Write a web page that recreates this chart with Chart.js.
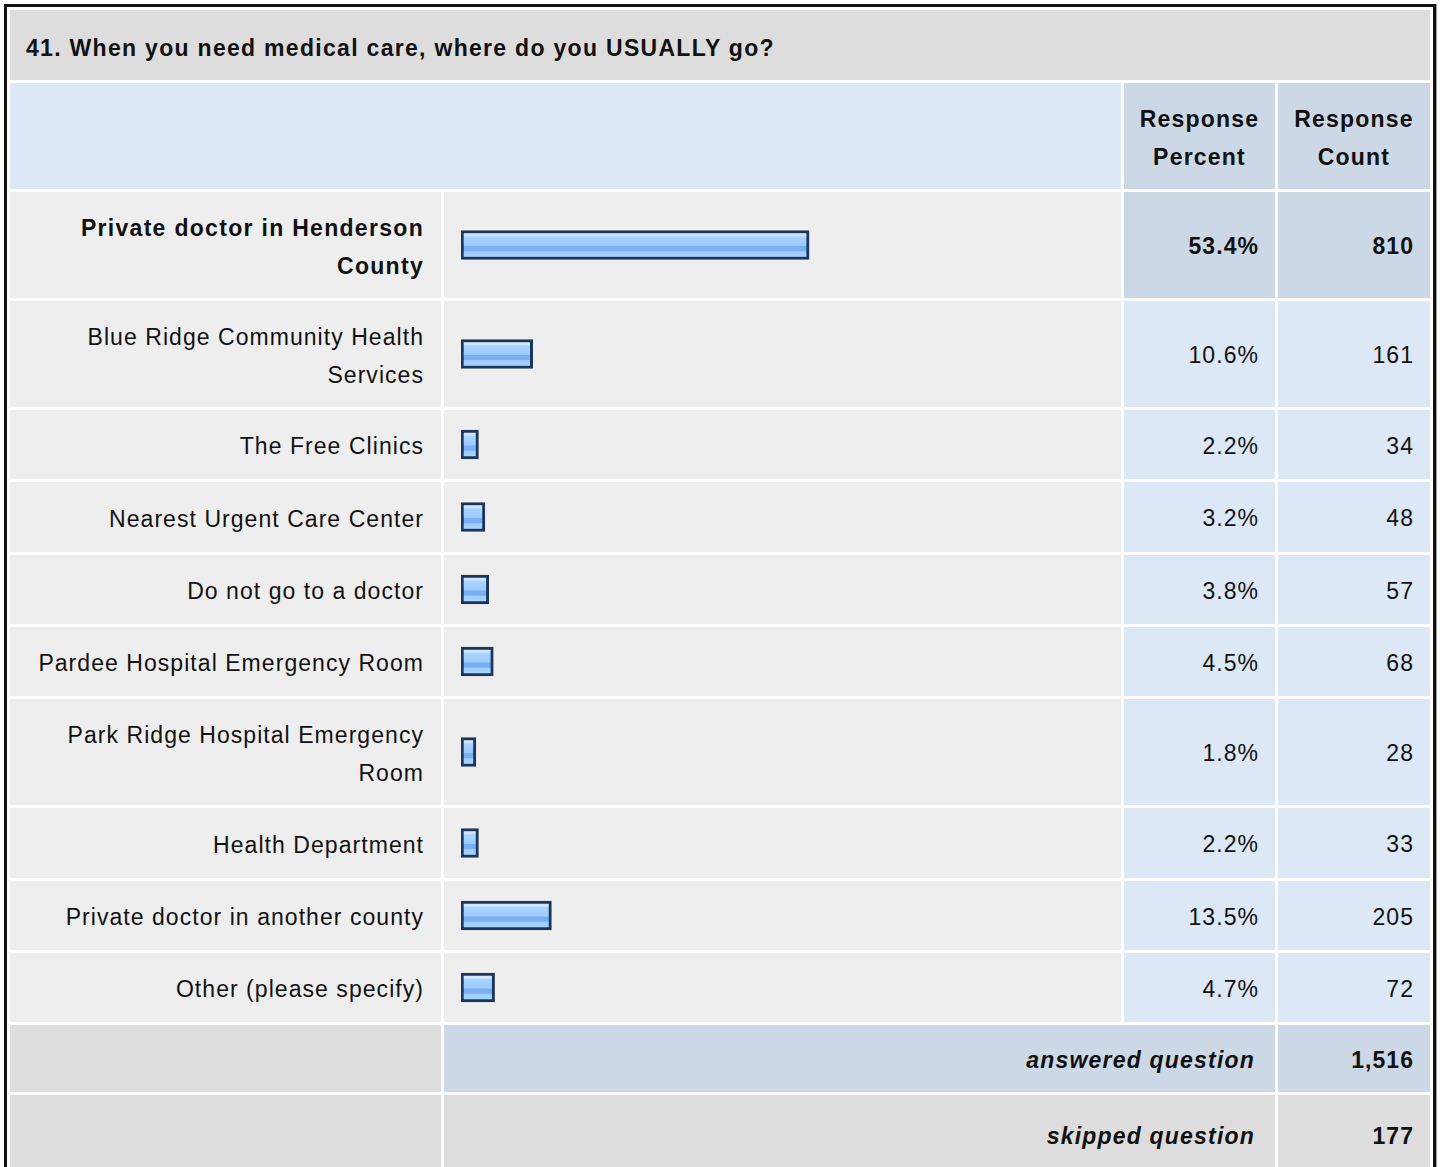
<!DOCTYPE html>
<html>
<head>
<meta charset="utf-8">
<script src="https://cdn.jsdelivr.net/npm/chart.js@4.4.1/dist/chart.umd.min.js"></script>
<style>
  html, body { margin: 0; padding: 0; background: #ffffff; }
  body { width: 1440px; height: 1167px; overflow: hidden; position: relative;
         font-family: "Liberation Sans", Arial, Helvetica, sans-serif; color: #111; }
  #box { position: absolute; left: 4px; top: 4px; border: 3px solid #111; padding: 3px;
         box-shadow: 1px 0 0 #999; }
  #grid { display: grid; grid-template-columns: 431px 677px 151px 152px; column-gap: 3px; row-gap: 3px; }
  .cell { display: flex; align-items: center; font-size: 23px; letter-spacing: 1.05px; box-sizing: border-box; padding-top: 3px; }
  .title { grid-column: 1 / 5; background: #dddddd; font-weight: bold; padding-left: 16px; letter-spacing: 1.3px; padding-top: 6px; }
  .hdrblank { grid-column: 1 / 3; background: #dce8f5; }
  .hdr { background: #ccd8e6; font-weight: bold; justify-content: center; text-align: center; line-height: 38px; letter-spacing: 1.2px; padding-top: 4px; }
  .lbl { background: #eeeeee; justify-content: flex-end; text-align: right; padding-right: 17px; padding-left: 16px; line-height: 38px; }
  .bar { background: #eeeeee; position: relative; padding: 0; }
  .bar canvas { position: absolute; left: 0; top: 0; }
  .pct { background: #dce8f5; justify-content: flex-end; padding-right: 16px; }
  .cnt { background: #dce8f5; justify-content: flex-end; padding-right: 16px; }
  .hl { background: #ccd8e6; font-weight: bold; }
  .b { font-weight: bold; letter-spacing: 1.3px; padding-top: 4px; }
  .footL { background: #dddddd; }
  .footM { grid-column: 2 / 4; justify-content: flex-end; padding-right: 20px; font-weight: bold; font-style: italic; letter-spacing: 1.2px; }
  .footC { justify-content: flex-end; padding-right: 16px; font-weight: bold; }
  .blue { background: #ccd8e6; }
  .gray { background: #dddddd; }
</style>
</head>
<body>
<div id="box"><div id="grid"></div></div>
<script>
// ---- data ----
const questionTitle = "41. When you need medical care, where do you USUALLY go?";
const categories = [
  "Private doctor in Henderson County",
  "Blue Ridge Community Health Services",
  "The Free Clinics",
  "Nearest Urgent Care Center",
  "Do not go to a doctor",
  "Pardee Hospital Emergency Room",
  "Park Ridge Hospital Emergency Room",
  "Health Department",
  "Private doctor in another county",
  "Other (please specify)"
];
const responsePercent = [53.4, 10.6, 2.2, 3.2, 3.8, 4.5, 1.8, 2.2, 13.5, 4.7];
const responseCount = [810, 161, 34, 48, 57, 68, 28, 33, 205, 72];
const answeredQuestion = 1516;
const skippedQuestion = 177;
const highlightIndex = 0;

// ---- layout (row heights in px) ----
const rowHeights = [106, 106, 69, 70, 69, 69, 106, 70, 69, 69];
const gridEl = document.getElementById('grid');
gridEl.style.gridTemplateRows = ['70px', '106px'].concat(rowHeights.map(h => h + 'px'), ['67px', '80px']).join(' ');

function cell(cls, html) {
  const d = document.createElement('div');
  d.className = 'cell ' + cls;
  if (html !== undefined) d.innerHTML = '<span>' + html + '</span>';
  gridEl.appendChild(d);
  return d;
}
cell('title', questionTitle);
cell('hdrblank');
cell('hdr', 'Response<br>Percent');
cell('hdr', 'Response<br>Count');

const barCells = [];
categories.forEach((cat, i) => {
  const hl = i === highlightIndex;
  cell('lbl' + (hl ? ' b' : ''), cat);
  barCells.push(cell('bar'));
  cell('pct' + (hl ? ' hl' : ''), responsePercent[i].toFixed(1) + '%');
  cell('cnt' + (hl ? ' hl' : ''), responseCount[i].toLocaleString('en-US'));
});
cell('footL');
cell('footM blue', 'answered question');
cell('footC blue', answeredQuestion.toLocaleString('en-US'));
cell('footL');
cell('footM gray', 'skipped question');
cell('footC gray', skippedQuestion.toLocaleString('en-US'));

// ---- bars: one Chart.js horizontal bar per row, sharing the same 0–100 % scale ----
function barFill(context) {
  const chart = context.chart;
  const area = chart.chartArea;
  if (!area) return '#9ccbff';
  const cy = (area.top + area.bottom) / 2;
  const g = chart.ctx.createLinearGradient(0, cy - 14.5, 0, cy + 14.5);
  g.addColorStop(0.00, '#d4eaff');
  g.addColorStop(0.18, '#cde6ff');
  g.addColorStop(0.22, '#a9d4ff');
  g.addColorStop(0.52, '#9bcaff');
  g.addColorStop(0.55, '#78b0f2');
  g.addColorStop(0.70, '#78b0f2');
  g.addColorStop(0.73, '#9ecdff');
  g.addColorStop(0.88, '#a6d2ff');
  g.addColorStop(1.00, '#c4e2ff');
  return g;
}

barCells.forEach((el, i) => {
  const w = el.clientWidth, h = el.clientHeight;
  const cv = document.createElement('canvas');
  cv.width = w; cv.height = h;
  cv.style.width = w + 'px'; cv.style.height = h + 'px';
  el.appendChild(cv);
  new Chart(cv, {
    type: 'bar',
    data: {
      labels: [categories[i]],
      datasets: [{
        data: [responsePercent[i]],
        base: -0.5,
        backgroundColor: barFill,
        borderColor: '#1c355a',
        borderWidth: 3,
        borderSkipped: false,
        barThickness: 29
      }]
    },
    options: {
      indexAxis: 'y',
      responsive: false,
      animation: false,
      events: [],
      layout: { padding: { left: 17, right: 11, top: 0, bottom: 0 } },
      plugins: { legend: { display: false }, tooltip: { enabled: false } },
      scales: {
        x: { type: 'linear', min: -0.5, max: 100, display: false },
        y: { type: 'category', display: false }
      }
    }
  });
});
</script>
</body>
</html>
